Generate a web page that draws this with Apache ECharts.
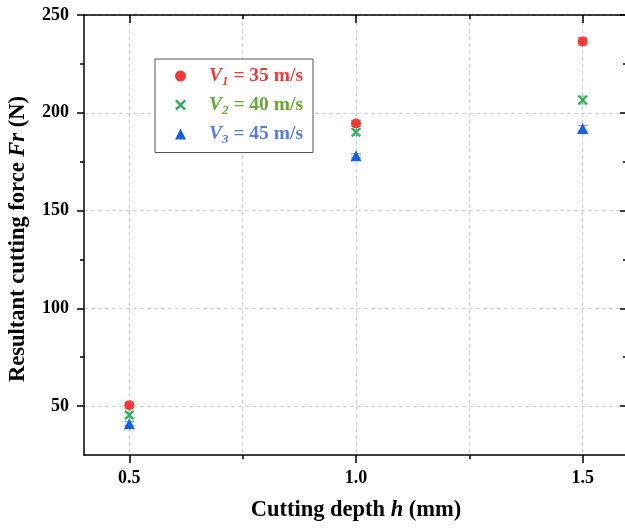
<!DOCTYPE html>
<html>
<head>
<meta charset="utf-8">
<script src="https://cdn.jsdelivr.net/npm/echarts@6/dist/echarts.min.js"></script>
<style>
  html, body { margin: 0; padding: 0; overflow: hidden; background: #fff; }
  #main { width: 640px; height: 528px; }
</style>
</head>
<body>
<div id="main"></div>
<script>
// cutting depth (mm)
var depths = [0.5, 1.0, 1.5];
// resultant cutting force (N) for each cutting speed
var forceV1 = [50.5, 194.5, 236.5];
var forceV2 = [45.5, 190, 206.5];
var forceV3 = [41, 178, 192];
// error bar half widths (N)
var errV1 = [1.5, 1.5, 2];
var errV2 = [1.5, 1.5, 2];
var errV3 = [1, 1, 1.5];

var xMajor = [0.5, 1.0, 1.5];
var xMinor = [0.75, 1.25];
var yMajor = [50, 100, 150, 200, 250];
var yMinor = [75, 125, 175, 225];

var FONT = "'Liberation Serif', 'Times New Roman', serif";
var colors = ['#ef3b3b', '#2ead5a', '#1a5fe0'];
var legendColors = ['#ee3b3b', '#66a832', '#5b7be6'];
var seriesNames = ['V1', 'V2', 'V3'];
var speedText = ['35', '40', '45'];
var crossPath = 'path://M0,1.5 L1.5,0 L5,3.5 L8.5,0 L10,1.5 L6.5,5 L10,8.5 L8.5,10 L5,6.5 L1.5,10 L0,8.5 L3.5,5 Z';

function pairs(ys) {
  return depths.map(function (x, i) { return [x, ys[i]]; });
}
function errData(ys, es) {
  return depths.map(function (x, i) { return [x, ys[i], es[i]]; });
}
// error bars drawn as a custom series (not in legend)
function errorBars(name, ys, es, color) {
  return {
    name: name + ' error',
    type: 'custom',
    z: 1,
    data: errData(ys, es),
    renderItem: function (params, api) {
      var x = api.value(0), y = api.value(1), e = api.value(2);
      var hi = api.coord([x, y + e]);
      var lo = api.coord([x, y - e]);
      var w = 5;
      var st = { stroke: color, lineWidth: 1.2, opacity: 0.6 };
      return {
        type: 'group',
        children: [
          { type: 'line', shape: { x1: hi[0], y1: hi[1], x2: lo[0], y2: lo[1] }, style: st },
          { type: 'line', shape: { x1: hi[0] - w, y1: hi[1], x2: hi[0] + w, y2: hi[1] }, style: st },
          { type: 'line', shape: { x1: lo[0] - w, y1: lo[1], x2: lo[0] + w, y2: lo[1] }, style: st }
        ]
      };
    }
  };
}

function xAxisBase(pos) {
  return {
    type: 'value', position: pos, min: 0.4, max: 1.6,
    axisLine: { show: false, onZero: false },
    axisLabel: { show: false },
    splitLine: { show: false }
  };
}
function yAxisBase(pos) {
  return {
    type: 'value', position: pos, min: 25, max: 250,
    axisLine: { show: false, onZero: false },
    axisLabel: { show: false },
    splitLine: { show: false }
  };
}
var axisLineStyle = { color: '#000', width: 1.5 };
var gridLineStyle = { color: '#cfcfcf', type: [4, 3], width: 1 };
var nameRich = {
  n: { fontSize: 22.5, fontWeight: 'bold', fontFamily: FONT, color: '#000' },
  i: { fontSize: 22.5, fontWeight: 'bold', fontStyle: 'italic', fontFamily: FONT, color: '#000' }
};

var xBottom = xAxisBase('bottom');
xBottom.axisLine = { show: true, onZero: false, lineStyle: axisLineStyle };
xBottom.axisTick = { show: true, inside: false, length: 8, customValues: xMajor, lineStyle: axisLineStyle };
xBottom.axisLabel = {
  show: true, customValues: xMajor, margin: 14,
  formatter: function (v) { return v.toFixed(1); },
  color: '#000', fontSize: 18, fontWeight: 'bold', fontFamily: FONT
};
xBottom.splitLine = { show: true, lineStyle: gridLineStyle };
xBottom.name = '{n|Cutting depth }{i|h}{n| (mm)}';
xBottom.nameLocation = 'middle';
xBottom.nameGap = 44;
xBottom.nameTextStyle = { rich: nameRich };

var xBottomMinor = xAxisBase('bottom');
xBottomMinor.axisTick = { show: true, inside: false, length: 4, customValues: xMinor, lineStyle: axisLineStyle };
xBottomMinor.splitLine = { show: true, lineStyle: gridLineStyle };

var xTop = xAxisBase('top');
xTop.axisLine = { show: true, onZero: false, lineStyle: axisLineStyle };
xTop.axisTick = { show: true, inside: true, length: 8, customValues: xMajor, lineStyle: axisLineStyle };

var xTopMinor = xAxisBase('top');
xTopMinor.axisTick = { show: true, inside: true, length: 4, customValues: xMinor, lineStyle: axisLineStyle };

var yLeft = yAxisBase('left');
yLeft.axisLine = { show: true, onZero: false, lineStyle: axisLineStyle };
yLeft.axisTick = { show: true, inside: false, length: 7, customValues: yMajor, lineStyle: axisLineStyle };
yLeft.axisLabel = {
  show: true, customValues: yMajor, margin: 15,
  color: '#000', fontSize: 18, fontWeight: 'bold', fontFamily: FONT
};
yLeft.splitLine = { show: true, lineStyle: gridLineStyle };
yLeft.name = '{n|Resultant cutting force }{i|Fr}{n| (N)}';
yLeft.nameLocation = 'middle';
yLeft.nameGap = 54;
yLeft.nameTextStyle = { padding: [0, 8, 0, 0], rich: nameRich };

var yLeftMinor = yAxisBase('left');
yLeftMinor.axisTick = { show: true, inside: false, length: 4, customValues: yMinor, lineStyle: axisLineStyle };

var yRight = yAxisBase('right');
yRight.axisLine = { show: true, onZero: false, lineStyle: axisLineStyle };
yRight.axisTick = { show: true, inside: true, length: 8, customValues: yMajor, lineStyle: axisLineStyle };

var yRightMinor = yAxisBase('right');
yRightMinor.axisTick = { show: true, inside: true, length: 5, customValues: yMinor, lineStyle: axisLineStyle };

var legendRich = {
  v: { fontSize: 19.5, fontWeight: 'bold', fontStyle: 'italic', fontFamily: FONT, lineHeight: 25 },
  s: { fontSize: 13, fontWeight: 'bold', fontStyle: 'italic', fontFamily: FONT, verticalAlign: 'bottom' },
  t: { fontSize: 19.5, fontWeight: 'bold', fontFamily: FONT, lineHeight: 25 }
};

var chart = echarts.init(document.getElementById('main'));
chart.setOption({
  backgroundColor: '#fff',
  animation: false,
  grid: { left: 84, top: 15, width: 544, height: 440, outerBoundsMode: 'none' },
  legend: {
    orient: 'vertical',
    left: 155, top: 59,
    padding: [7, 10, 6, 20],
    itemGap: 6.5,
    itemWidth: 11, itemHeight: 11,
    borderColor: '#555', borderWidth: 1,
    backgroundColor: '#fff',
    selectedMode: false,
    data: seriesNames.map(function (n, i) {
      return { name: n, textStyle: { color: legendColors[i] } };
    }),
    formatter: function (name) {
      var i = seriesNames.indexOf(name);
      return '{v|V}{s|' + (i + 1) + '}{t| = ' + speedText[i] + ' m/s}';
    },
    textStyle: { padding: [0, 0, 0, 18], rich: legendRich }
  },
  xAxis: [xBottom, xBottomMinor, xTop, xTopMinor],
  yAxis: [yLeft, yLeftMinor, yRight, yRightMinor],
  series: [
    errorBars('V1', forceV1, errV1, colors[0]),
    errorBars('V2', forceV2, errV2, colors[1]),
    errorBars('V3', forceV3, errV3, colors[2]),
    { name: 'V1', type: 'scatter', z: 3, symbol: 'circle', symbolSize: 10, itemStyle: { color: colors[0], opacity: 1 }, data: pairs(forceV1) },
    { name: 'V2', type: 'scatter', z: 2, symbol: crossPath, symbolSize: 10, itemStyle: { color: colors[1], opacity: 1 }, data: pairs(forceV2) },
    { name: 'V3', type: 'scatter', z: 2, symbol: 'triangle', symbolSize: 11, itemStyle: { color: colors[2], opacity: 1 }, data: pairs(forceV3) }
  ]
});
</script>
</body>
</html>
